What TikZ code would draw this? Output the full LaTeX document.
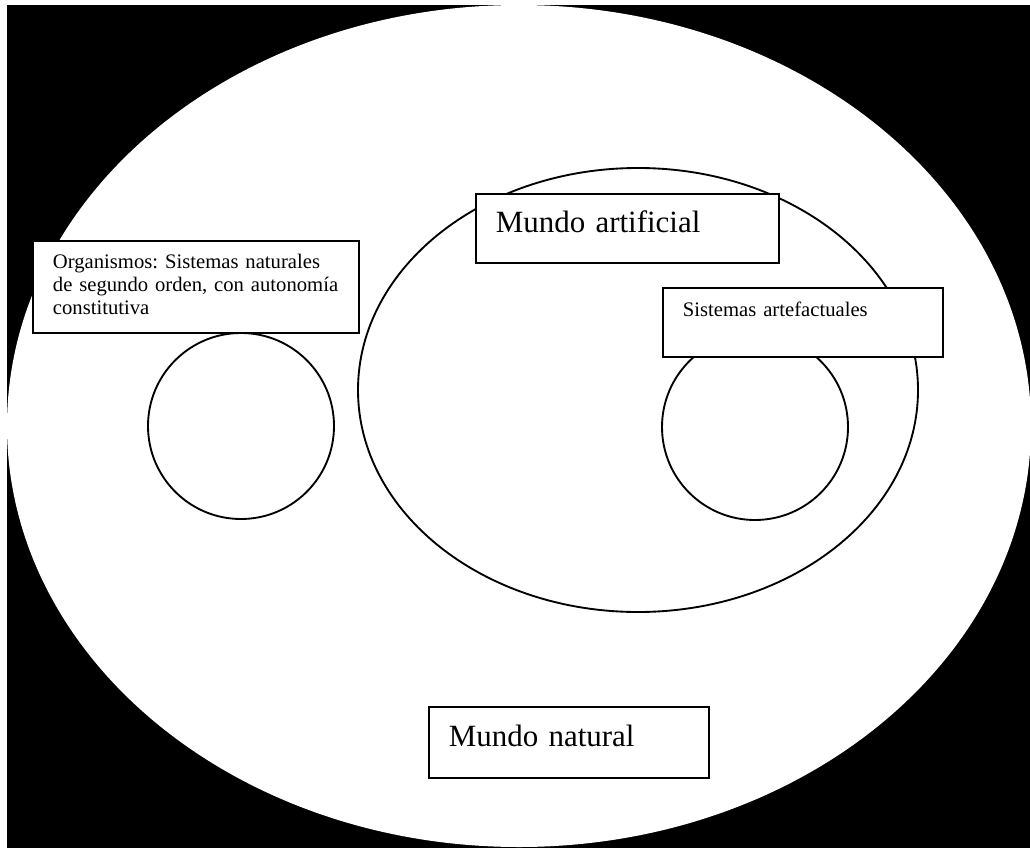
\documentclass[tikz,border=0pt]{standalone}
\usepackage{fontspec}
\setmainfont{Liberation Serif}
\frenchspacing

\tikzset{every picture/.style={line width=1.4pt}}
\tikzset{txtbox/.style={draw, fill=white, anchor=north west, align=left, inner xsep=15pt, inner ysep=0pt}}
\tikzset{smalltxt/.style={font=\fontsize{15.5}{17.25}\selectfont}}
\tikzset{bigtxt/.style={font=\fontsize{23.2}{26}\selectfont}}

\begin{document}
\begin{tikzpicture}[x=0.75pt,y=0.75pt,yscale=-1,xscale=1]
\useasboundingbox (0,0) rectangle (1030,848);

%Shape: Rectangle (background)
\fill [black] (7,5) rectangle (1030,848);
%Shape: Ellipse (mundo natural)
\fill [white] (519,426) ellipse (512 and 421);
%Shape: Ellipse (mundo artificial)
\draw (638,390) ellipse (280 and 222);
%Shape: Circle
\draw (241,426) circle (93);
%Shape: Circle
\draw (755,427) circle (93);

% Text Node
\draw (32,240) node [txtbox, smalltxt, text width=214.5pt, text height=21pt, text depth=48pt] (organismos) {Organismos: Sistemas naturales\\de segundo orden, con autonomía\\constitutiva};
% Text Node
\draw (475,193) node [txtbox, bigtxt, text width=197.25pt, text height=29.25pt, text depth=22.5pt] (artificial) {Mundo artificial};
% Text Node
\draw (662,287) node [txtbox, smalltxt, text width=180pt, text height=21.75pt, text depth=30pt] (artefactuales) {Sistemas artefactuales};
% Text Node
\draw (428,706) node [txtbox, bigtxt, text width=180pt, text height=30pt, text depth=23.25pt] (natural) {Mundo natural};

\end{tikzpicture}
\end{document}
